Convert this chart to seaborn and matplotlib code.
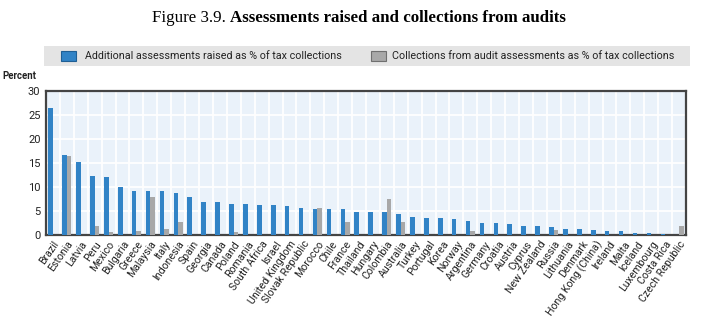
import numpy as np
import pandas as pd
import matplotlib
matplotlib.use("Agg")
import matplotlib.pyplot as plt
import seaborn as sns
from matplotlib.patches import Rectangle

countries = ["Brazil", "Estonia", "Latvia", "Peru", "Mexico", "Bulgaria", "Greece", "Malaysia",
             "Italy", "Indonesia", "Spain", "Georgia", "Canada", "Poland", "Romania", "South Africa",
             "Israel", "United Kingdom", "Slovak Republic", "Morocco", "Chile", "France", "Thailand",
             "Hungary", "Colombia", "Australia", "Turkey", "Portugal", "Korea", "Norway", "Argentina",
             "Germany", "Croatia", "Austria", "Cyprus", "New Zealand", "Russia", "Lithuania", "Denmark",
             "Hong Kong (China)", "Ireland", "Malta", "Iceland", "Luxembourg", "Costa Rica",
             "Czech Republic"]
assessments = [26.4, 16.7, 15.3, 12.3, 12.0, 10.1, 9.2, 9.2, 9.2, 8.7, 7.9, 6.8, 6.8, 6.5, 6.5,
               6.25, 6.25, 6.0, 5.7, 5.4, 5.4, 5.4, 4.85, 4.85, 4.85, 4.3, 3.75, 3.5, 3.5, 3.25,
               3.0, 2.4, 2.4, 2.2, 1.9, 1.9, 1.6, 1.3, 1.3, 1.05, 0.8, 0.8, 0.5, 0.5, 0.25, 0.0]
collections = [0.0, 16.4, 0.0, 1.9, 0.6, 0.0, 0.8, 7.9, 1.3, 2.7, 0.0, 0.0, 0.0, 0.6, 0.0,
               0.0, 0.0, 0.0, 0.0, 5.7, 0.0, 2.7, 0.0, 0.0, 7.6, 2.7, 0.0, 0.0, 0.0, 0.0,
               0.8, 0.0, 0.0, 0.0, 0.0, 0.0, 1.0, 0.0, 0.0, 0.0, 0.0, 0.0, 0.0, 0.0, 0.0, 1.9]
series_names = ["Additional assessments raised as % of tax collections",
                "Collections from audit assessments as % of tax collections"]
yticks = [0, 5, 10, 15, 20, 25, 30]

df = pd.DataFrame({
    "country": countries * 2,
    "value": assessments + collections,
    "series": [series_names[0]] * len(countries) + [series_names[1]] * len(countries),
})

BLUE = "#3183c6"
GRAY = "#a8a8a8"
sns.set_theme(style="white")
plt.rcParams["font.family"] = ["Roboto", "DejaVu Sans"]

W, H = 714, 326
fig = plt.figure(figsize=(W / 100, H / 100), dpi=100)
ax = fig.add_axes([46 / W, 1 - 235 / H, 640 / W, 144 / H])
ax.set_facecolor("#eaf2fa")

sns.barplot(data=df, x="country", y="value", hue="series", order=countries,
            hue_order=series_names, palette=[BLUE, GRAY], width=0.66,
            saturation=1, ax=ax, legend=False, zorder=3, linewidth=0)

ax.set_xlim(-0.5, len(countries) - 0.5)
ax.set_ylim(0, 30)
ax.set_yticks(yticks)
ax.set_yticklabels([str(t) for t in yticks], fontsize=8, color="#222222")
ax.set_xlabel("")
ax.set_ylabel("")

for t in yticks[1:-1]:
    ax.axhline(t, color="white", lw=1.3, zorder=1)
for i in range(len(countries) - 1):
    ax.axvline(i + 0.5, color="white", lw=1.3, zorder=1)

ax.set_xticks(np.arange(len(countries)) + 0.5, minor=True)
ax.tick_params(axis="x", which="minor", direction="in", length=3, color="#444444", width=0.8)
ax.set_xticks(np.arange(len(countries)))
ax.set_xticklabels(countries, rotation=55, ha="right", rotation_mode="anchor",
                   fontsize=7.6, color="#222222")
ax.tick_params(axis="x", which="major", length=0, pad=3)
ax.tick_params(axis="y", which="major", length=3, direction="in", color="#444444", pad=4)

for s in ax.spines.values():
    s.set_visible(True)
    s.set_color("#444444")
    s.set_linewidth(1.6)

# legend box (manual layout, figure pixel coords)
fig.canvas.draw()
r = fig.canvas.get_renderer()


def px(x, y):
    return x / W, 1 - y / H


fig.patches.append(Rectangle(px(44, 66), 646 / W, 20 / H, transform=fig.transFigure,
                             facecolor="#e4e4e4", edgecolor="none", zorder=0))
fig.patches.append(Rectangle(px(61, 61), 15 / W, 10 / H, transform=fig.transFigure,
                             facecolor=BLUE, edgecolor="#1f5f95", lw=0.8, zorder=1))
fig.patches.append(Rectangle(px(371, 61), 15 / W, 10 / H, transform=fig.transFigure,
                             facecolor=GRAY, edgecolor="#6f6f6f", lw=0.8, zorder=1))


def fitted_text(x0, x1, y, s, **kw):
    t = fig.text(*px(x0, y), s, va="center", ha="left", fontsize=8, **kw)
    w = t.get_window_extent(r).width
    t.set_fontsize(8 * (x1 - x0) / w)
    return t


fitted_text(85, 343, 56, series_names[0], color="#222222")
fitted_text(392, 674, 56, series_names[1], color="#222222")

fitted_text(2, 36, 76, "Percent", fontweight="bold", color="#222222")

# title in two parts
t1 = fig.text(0, 1 - 18 / H, "Figure 3.9. ", fontsize=12.2, family="Liberation Serif",
              va="center", color="black")
t2 = fig.text(0, 1 - 18 / H, "Assessments raised and collections from audits", fontsize=12.2,
              family="Liberation Serif", fontweight="bold", va="center", color="black")
w1 = t1.get_window_extent(r).width
w2 = t2.get_window_extent(r).width
x0 = 152
t1.set_x(x0 / W)
t2.set_x((x0 + w1) / W)

fig.savefig("out.png", dpi=100)
